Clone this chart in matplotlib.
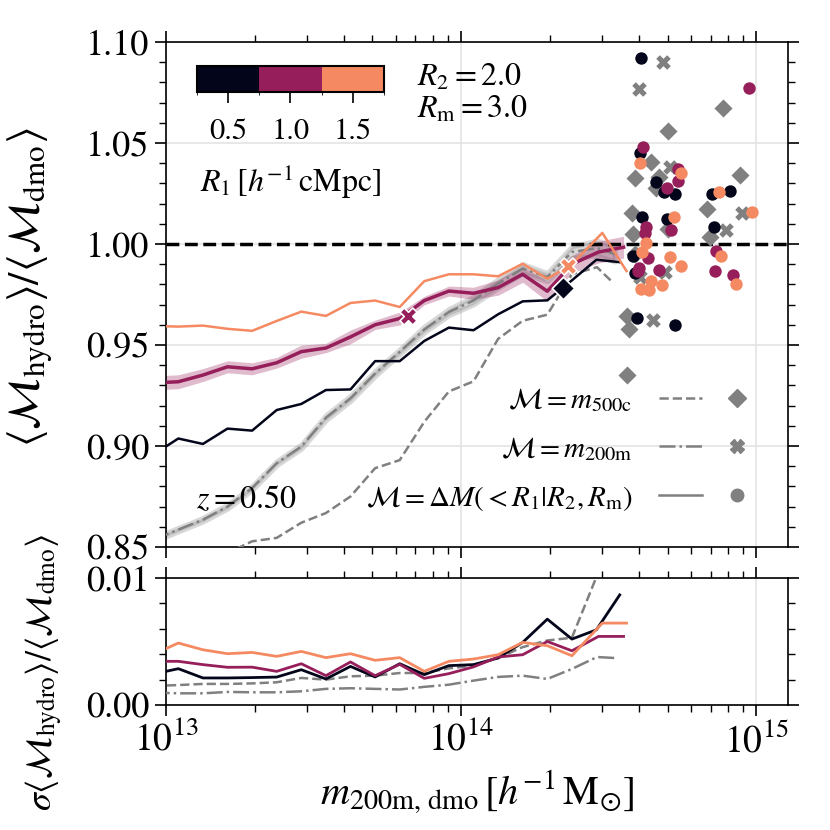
import numpy as np
import matplotlib
matplotlib.use("Agg")
import matplotlib.pyplot as plt
from matplotlib.colors import ListedColormap, BoundaryNorm
from matplotlib.lines import Line2D
from matplotlib.legend_handler import HandlerTuple
from matplotlib.colorbar import ColorbarBase
import matplotlib.ticker as mticker

plt.rcParams['font.family'] = ['STIXGeneral', 'DejaVu Serif']
plt.rcParams['mathtext.fontset'] = 'stix'

# ---------------- data ----------------
# bin centres in log10(m200m,dmo)
logm_bins = [12.9583, 13.0417, 13.1250, 13.2083, 13.2917, 13.3750, 13.4583,
             13.5417, 13.6250, 13.7083, 13.7917, 13.8750, 13.9583, 14.0417,
             14.1250, 14.2083, 14.2917, 14.3750]
logm_tail_r05 = [14.458, 14.537]
logm_tail_r10 = [14.465, 14.550]
logm_tail_r15 = [14.478, 14.560]
logm_tail_200m = [14.460, 14.520]
logm_tail_500c = [14.460, 14.513]

r1_values = [0.5, 1.0, 1.5]
r1_colors = ['#03051A', '#961E5A', '#F58A62']

ratio_r05 = [0.8958, 0.9037, 0.9010, 0.9086, 0.9076, 0.9178, 0.9208, 0.9277, 0.9280, 0.9420,
             0.9420, 0.9520, 0.9586, 0.9573, 0.9652, 0.9716, 0.9721, 0.9820, 0.9922, 0.9910]
ratio_r10 = [0.9312, 0.9318, 0.9351, 0.9392, 0.9382, 0.9412, 0.9467, 0.9485, 0.9540, 0.9600,
             0.9631, 0.9720, 0.9767, 0.9756, 0.9784, 0.9850, 0.9766, 0.9900, 0.9960, 0.9984]
ratio_r15 = [0.9594, 0.9591, 0.9596, 0.9580, 0.9570, 0.9619, 0.9665, 0.9644, 0.9708, 0.9720,
             0.9688, 0.9816, 0.9850, 0.9850, 0.9840, 0.9902, 0.9828, 0.9900, 1.0055, 0.9866]
ratio_200m = [0.8536, 0.8586, 0.8635, 0.8700, 0.8792, 0.8915, 0.8997, 0.9140, 0.9236, 0.9359,
              0.9466, 0.9577, 0.9663, 0.9720, 0.9804, 0.9878, 0.9836, 0.9960, 0.9980, 0.9950]
ratio_500c = [0.8280, 0.8350, 0.8400, 0.8470, 0.8528, 0.8545, 0.8620, 0.8668, 0.8750, 0.8890,
              0.8930, 0.9120, 0.9270, 0.9320, 0.9530, 0.9620, 0.9650, 0.9850, 0.9885, 0.9810]

sig_r05 = [0.00244, 0.00286, 0.00213, 0.00213, 0.00216, 0.00220, 0.00278, 0.00205, 0.00304, 0.00221,
           0.00325, 0.00239, 0.00310, 0.00318, 0.00370, 0.00493, 0.00676, 0.00519, 0.00592, 0.00867]
sig_r10 = [0.00344, 0.00344, 0.00318, 0.00297, 0.00298, 0.00265, 0.00325, 0.00231, 0.00339, 0.00231,
           0.00320, 0.00210, 0.00247, 0.00300, 0.00378, 0.00396, 0.00500, 0.00427, 0.00540, 0.00540]
sig_r15 = [0.00400, 0.00488, 0.00435, 0.00404, 0.00414, 0.00383, 0.00422, 0.00373, 0.00404, 0.00352,
           0.00373, 0.00265, 0.00344, 0.00362, 0.00396, 0.00493, 0.00467, 0.00388, 0.00645, 0.00645]
sig_200m = [0.00098, 0.00092, 0.00092, 0.00103, 0.00100, 0.00100, 0.00108, 0.00127, 0.00132, 0.00127,
            0.00122, 0.00143, 0.00160, 0.00192, 0.00221, 0.00231, 0.00205, 0.00284, 0.00378, 0.00370]
sig_500c = [0.00150, 0.00157, 0.00166, 0.00166, 0.00170, 0.00179, 0.00213, 0.00200, 0.00226, 0.00231,
            0.00252, 0.00252, 0.00289, 0.00310, 0.00370, 0.00456, 0.00508, 0.00530, 0.01020, 0.01600]

# markers on the lines (log mass, ratio)
mark_r05 = (14.345, 0.978)
mark_r10 = (13.820, 0.9642)
mark_r15 = (14.362, 0.989)

# individual massive haloes
halo_r05_logm = [14.610, 14.605, 14.661, 14.686, 14.725, 14.850, 14.911, 14.614, 14.696, 14.857,
                 14.581, 14.588, 14.594, 14.724]
halo_r05_ratio = [1.0919, 1.0449, 1.0305, 1.0259, 1.0248, 1.0248, 1.0264, 1.0132, 1.0124, 1.0083,
                  0.9943, 0.9856, 0.9634, 0.9600]
halo_r10_logm = [14.616, 14.734, 14.734, 14.697, 14.975, 14.627, 14.624, 14.710, 14.633, 14.602,
                 14.598, 14.670, 14.864, 14.861, 14.920]
halo_r10_ratio = [1.0478, 1.0371, 1.0310, 1.0276, 1.0772, 1.0086, 1.0053, 1.0067, 0.9932, 0.9883,
                  0.9864, 0.9873, 0.9963, 0.9866, 0.9848]
halo_r15_logm = [14.605, 14.746, 14.872, 14.985, 14.720, 14.627, 14.614, 14.706, 14.743, 14.879,
                 14.608, 14.636, 14.642, 14.681, 14.932]
halo_r15_ratio = [1.0401, 1.0351, 1.0256, 1.0160, 1.0132, 1.0004, 0.9960, 0.9938, 0.9890, 0.9943,
                  0.9779, 0.9770, 0.9816, 0.9799, 0.9800]
halo_500c_logm = [14.887, 14.700, 14.642, 14.590, 14.670, 14.943, 14.661, 14.834, 14.580, 14.700,
                  14.842, 14.582, 14.563, 14.568, 14.563, 14.588]
halo_500c_ratio = [1.0672, 1.0560, 1.0407, 1.0327, 1.0330, 1.0343, 1.0277, 1.0174, 1.0151, 1.0075,
                   1.0034, 1.0050, 0.9642, 0.9581, 0.9351, 0.9952]
halo_200m_logm = [14.683, 14.601, 14.706, 14.952, 14.898, 14.689, 14.648, 14.605]
halo_200m_ratio = [1.0902, 1.0766, 1.0379, 1.0153, 1.0070, 0.9861, 0.9626, 0.9836]

y_ticks_main = [0.85, 0.90, 0.95, 1.00, 1.05, 1.10]
y_ticks_sig = [0.00, 0.01]

# ---------------- figure ----------------
GRAY = '#808080'
fig = plt.figure(figsize=(8.3, 8.3), dpi=100)
ax = fig.add_axes([0.2, 0.341, 0.7494, 0.6084])
axb = fig.add_axes([0.2, 0.1506, 0.7494, 0.153], sharex=ax)


def mass(bins, tail):
    return 10 ** np.array(bins + tail)


x05 = mass(logm_bins, logm_tail_r05)
x10 = mass(logm_bins, logm_tail_r10)
x15 = mass(logm_bins, logm_tail_r15)
x200 = mass(logm_bins, logm_tail_200m)
x500 = mass(logm_bins, logm_tail_500c)

c05, c10, c15 = r1_colors

# main panel
ax.axhline(1.0, color='k', ls='--', lw=2.5, zorder=3)
ax.fill_between(x200, np.array(ratio_200m) - sig_200m, np.array(ratio_200m) + sig_200m,
                color=GRAY, alpha=0.3, lw=3.5, edgecolor=(0.5, 0.5, 0.5, 0.25), zorder=2)
ax.plot(x500, ratio_500c, color=GRAY, ls='--', lw=1.8, zorder=3)
ax.plot(x200, ratio_200m, color=GRAY, ls='-.', lw=1.8, zorder=3)
ax.fill_between(x10, np.array(ratio_r10) - sig_r10, np.array(ratio_r10) + sig_r10,
                color=c10, alpha=0.3, lw=0, zorder=2)
ax.plot(x05, ratio_r05, color=c05, lw=1.8, zorder=4)
ax.plot(x10, ratio_r10, color=c10, lw=2.5, zorder=4)
ax.plot(x15, ratio_r15, color=c15, lw=1.8, zorder=4)

ax.scatter(10 ** mark_r05[0], mark_r05[1], marker='D', s=130, color=c05, edgecolor='white', lw=1.2, zorder=6)
ax.scatter(10 ** mark_r10[0], mark_r10[1], marker='X', s=150, color=c10, edgecolor='white', lw=1.2, zorder=6)
ax.scatter(10 ** mark_r15[0], mark_r15[1], marker='X', s=150, color=c15, edgecolor='white', lw=1.2, zorder=6)

ax.scatter(10 ** np.array(halo_500c_logm), halo_500c_ratio, marker='D', s=85, color=GRAY, lw=0, zorder=5)
ax.scatter(10 ** np.array(halo_200m_logm), halo_200m_ratio, marker='X', s=110, color=GRAY, lw=0, zorder=5)
ax.scatter(10 ** np.array(halo_r05_logm), halo_r05_ratio, marker='o', s=80, color=c05, lw=0, zorder=5)
ax.scatter(10 ** np.array(halo_r10_logm), halo_r10_ratio, marker='o', s=80, color=c10, lw=0, zorder=5)
ax.scatter(10 ** np.array(halo_r15_logm), halo_r15_ratio, marker='o', s=80, color=c15, lw=0, zorder=5)

# bottom panel
axb.plot(x500, sig_500c, color=GRAY, ls='--', lw=1.8, zorder=3)
axb.plot(x200, sig_200m, color=GRAY, ls='-.', lw=1.8, zorder=3)
axb.plot(x05, sig_r05, color=c05, lw=2.0, zorder=4)
axb.plot(x10, sig_r10, color=c10, lw=2.0, zorder=4)
axb.plot(x15, sig_r15, color=c15, lw=2.0, zorder=4)

# axes formatting
for a in (ax, axb):
    a.set_xscale('log')
    a.set_xlim(1e13, 10 ** 15.107)
    a.grid(True, which='major', color='#e4e4e4', lw=1.2, zorder=0)
    a.set_axisbelow(True)
    a.tick_params(which='both', direction='out', top=True, right=True, labelsize=26, pad=4)
    a.tick_params(which='major', length=8, width=1.2)
    a.tick_params(which='minor', length=5, width=1.0)
    for s in a.spines.values():
        s.set_linewidth(1.2)

ax.tick_params(labelbottom=False)
axb.tick_params(axis='x', labelsize=27)
ax.set_ylim(0.85, 1.10)
ax.set_yticks(y_ticks_main)
ax.yaxis.set_minor_locator(mticker.MultipleLocator(0.01))
ax.yaxis.set_major_formatter(mticker.FormatStrFormatter('%.2f'))

axb.set_ylim(0.0, 0.01)
axb.set_yticks(y_ticks_sig)
axb.yaxis.set_minor_locator(mticker.MultipleLocator(0.002))
axb.yaxis.set_major_formatter(mticker.FormatStrFormatter('%.2f'))
axb.xaxis.set_major_locator(mticker.LogLocator(base=10, numticks=10))

ax.set_ylabel(r'$\langle\mathcal{M}_{\rm hydro}\rangle/\langle\mathcal{M}_{\rm dmo}\rangle$',
              fontsize=32, va='center')
ax.yaxis.set_label_coords(-0.218, 0.515)
axb.set_ylabel(r'$\sigma\langle\mathcal{M}_{\rm hydro}\rangle/\langle\mathcal{M}_{\rm dmo}\rangle$',
               fontsize=26, va='center')
axb.yaxis.set_label_coords(-0.195, 0.26)
axb.set_xlabel(r'$m_{\rm 200m,\,dmo}\,[h^{-1}\,{\rm M}_{\odot}]$', fontsize=29)
axb.xaxis.set_label_coords(0.5, -0.5)

# texts
ax.text(0.404, 0.929, r'$R_2=2.0$', transform=ax.transAxes, fontsize=23, va='center', ha='left')
ax.text(0.404, 0.865, r'$R_{\rm m}=3.0$', transform=ax.transAxes, fontsize=23, va='center', ha='left')
ax.text(0.048, 0.093, r'$z=0.50$', transform=ax.transAxes, fontsize=23, va='center', ha='left')

# legend
h1 = (Line2D([], [], color=GRAY, ls='--', lw=1.8), Line2D([], [], color=GRAY, marker='D', ls='none', ms=9))
h2 = (Line2D([], [], color=GRAY, ls='-.', lw=1.8), Line2D([], [], color=GRAY, marker='X', ls='none', ms=10))
h3 = (Line2D([], [], color=GRAY, ls='-', lw=1.8), Line2D([], [], color=GRAY, marker='o', ls='none', ms=9))
labels = [r'$\mathcal{M}=m_{500{\rm c}}$', r'$\mathcal{M}=m_{200{\rm m}}$',
          r'$\mathcal{M}=\Delta M(<R_1|R_2,R_{\rm m})$']
ax.legend([h1, h2, h3], labels, handler_map={tuple: HandlerTuple(ndivide=None, pad=0.45)},
          markerfirst=False, frameon=False, fontsize=21, handlelength=3.4, handletextpad=0.9,
          labelspacing=0.72, loc='lower right', bbox_to_anchor=(0.952, 0.068),
          borderaxespad=0, borderpad=0)

# colour bar inset
cax = fig.add_axes([0.237, 0.8895, 0.2257, 0.031])
cmap = ListedColormap(r1_colors)
norm = BoundaryNorm([0.25, 0.75, 1.25, 1.75], cmap.N)
cb = ColorbarBase(cax, cmap=cmap, norm=norm, orientation='horizontal', ticks=r1_values)
cb.ax.set_xticklabels(['0.5', '1.0', '1.5'])
cb.ax.tick_params(labelsize=22, length=8, width=1.2, direction='out', pad=11)
cb.outline.set_linewidth(1.5)
cb.set_label(r'$R_1\,[h^{-1}\,{\rm cMpc}]$', fontsize=23, labelpad=12)

fig.savefig('out.png', dpi=100)
